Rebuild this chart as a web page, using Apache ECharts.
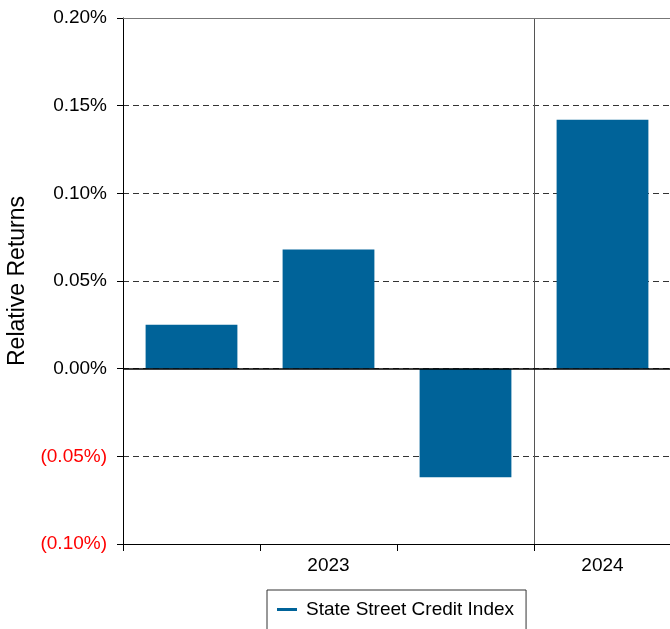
<!DOCTYPE html>
<html>
<head>
<meta charset="utf-8">
<script src="https://cdn.jsdelivr.net/npm/echarts@6/dist/echarts.min.js"></script>
<style>
  html, body { margin: 0; padding: 0; background: #fff; }
  #chart { width: 670px; height: 629px; }
</style>
</head>
<body>
<div id="chart"></div>
<script>
// periods (quarters), year label shown under middle of each year group
var periods = ['P1', 'P2', 'P3', 'P4'];
var yearLabels = ['', '2023', '', '2024'];
// relative returns in percent
var returns = [0.025, 0.068, -0.062, 0.142];
var seriesName = 'State Street Credit Index';

var chart = echarts.init(document.getElementById('chart'));

function fmtPct(v) {
  var s = Math.abs(v).toFixed(2) + '%';
  return v < 0 ? '(' + s + ')' : s;
}

var option = {
  animation: false,
  textStyle: { fontFamily: 'Liberation Sans, Arial, sans-serif' },
  grid: { left: 123, right: -1, top: 18, bottom: 85, outerBoundsMode: 'none' },
  legend: {
    top: 590,
    left: 267,
    data: [seriesName],
    icon: 'rect',
    itemWidth: 20,
    itemHeight: 3,
    itemGap: 10,
    padding: [10, 12, 20, 10],
    borderColor: '#333',
    borderWidth: 1,
    textStyle: { fontSize: 19, color: '#000', padding: [0, 0, 0, 4] }
  },
  xAxis: [
    {
      type: 'category',
      data: periods,
      axisLine: { onZero: false, lineStyle: { color: '#000', width: 1 } },
      axisTick: { show: true, length: 7, interval: 0, lineStyle: { color: '#000' } },
      axisLabel: {
        fontSize: 19,
        color: '#000',
        margin: 12,
        interval: 0,
        formatter: function (v, i) { return yearLabels[i]; }
      },
      splitLine: { show: false }
    },
    {
      // invisible axis only used for the year separator line
      type: 'value',
      min: 0,
      max: 4,
      interval: 3,
      position: 'top',
      axisLine: { show: false },
      axisTick: { show: false },
      axisLabel: { show: false },
      splitLine: { show: true, lineStyle: { color: '#555', width: 1 } }
    }
  ],
  yAxis: {
    type: 'value',
    min: -0.1,
    max: 0.2,
    interval: 0.05,
    name: 'Relative Returns',
    nameLocation: 'middle',
    nameGap: 92,
    nameTextStyle: { fontSize: 23, color: '#000' },
    axisLine: { show: true, lineStyle: { color: '#000' } },
    axisTick: { show: true, length: 6, lineStyle: { color: '#000' } },
    axisLabel: {
      fontSize: 19,
      margin: 16,
      formatter: fmtPct,
      color: function (v) { return Number(v) < 0 ? '#ff0000' : '#000'; }
    },
    splitLine: { show: true, lineStyle: { color: '#333', type: [6, 4], width: 1 } }
  },
  series: [
    {
      name: seriesName,
      type: 'bar',
      data: returns,
      barWidth: '67%',
      itemStyle: { color: '#006399' },
      markLine: {
        symbol: 'none',
        silent: true,
        label: { show: false },
        data: [
          { yAxis: 0, lineStyle: { color: '#000', type: 'solid', width: 1.5 } },
          { yAxis: 0.2, lineStyle: { color: '#777', type: 'solid', width: 1 } }
        ]
      }
    }
  ]
};

chart.setOption(option);
</script>
</body>
</html>
